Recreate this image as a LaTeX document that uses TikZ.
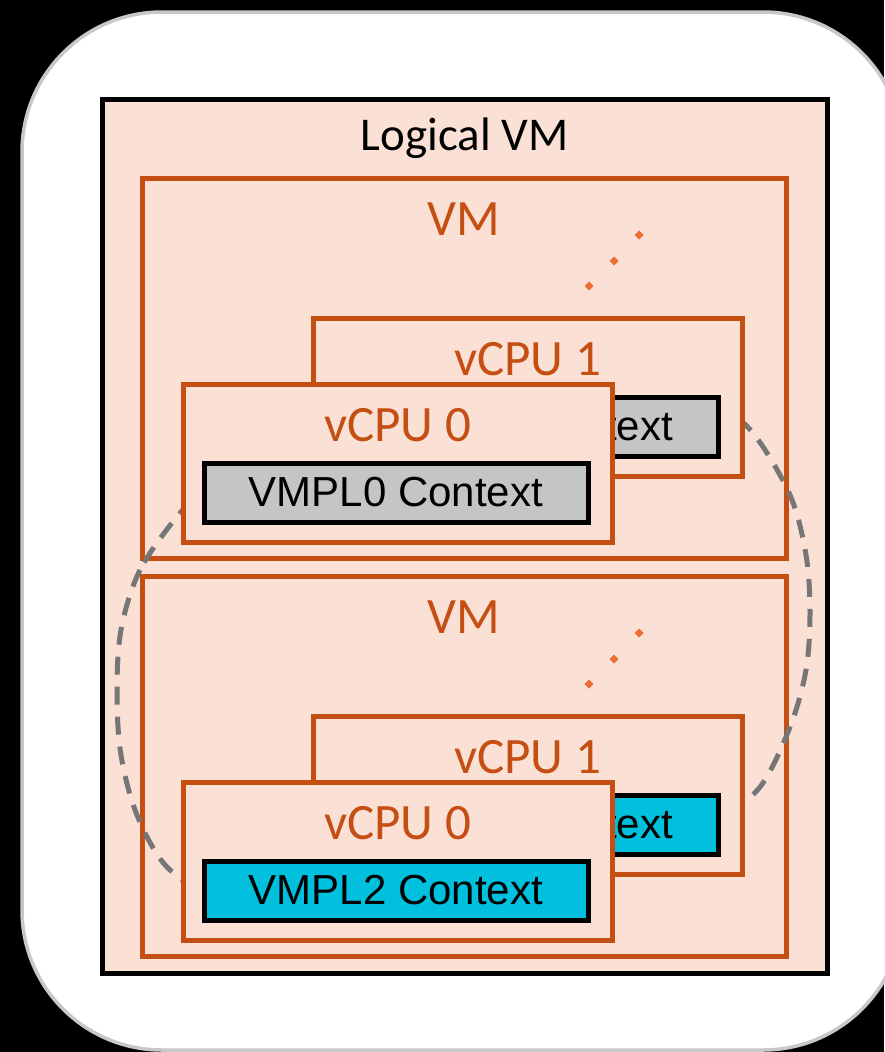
\documentclass[tikz,border=0pt]{standalone}
\usepackage{fontspec}
\setmainfont{Carlito}
\newfontfamily\ctxfont{Liberation Sans}
\definecolor{PanelClr}{RGB}{200,200,200}
\definecolor{LogicClr}{RGB}{251,224,214}
\definecolor{VmClr}{RGB}{197,78,18}
\definecolor{DotClr}{RGB}{237,110,49}
\definecolor{CtxGray}{RGB}{196,197,199}
\definecolor{CtxCyan}{RGB}{0,192,222}
\definecolor{RingClr}{RGB}{118,118,118}

\begin{document}
\begin{tikzpicture}[x=1pt,y=-1pt,
  lvmbox/.style={draw=black,fill=LogicClr,line width=5pt,minimum width=725pt,minimum height=874pt},
  vmbox/.style={draw=VmClr,fill=LogicClr,line width=5pt,minimum width=644pt,minimum height=380pt},
  cpubox/.style={draw=VmClr,fill=LogicClr,line width=5pt,minimum width=429pt,minimum height=158pt},
  ctxbox/.style={draw=black,line width=5pt,minimum width=384pt,minimum height=59pt,inner sep=0pt,
    font=\ctxfont\fontsize{42}{50}\selectfont},
  vmlbl/.style={anchor=base,inner sep=0pt,text=VmClr,font=\fontsize{51}{60}\selectfont},
  ring/.style={draw=RingClr,line width=5pt,dash pattern=on 18pt off 12pt}]

\useasboundingbox (0,0) rectangle (884,1052);
\fill[black] (0,0) rectangle (884,1052);
\draw[PanelClr,fill=white,line width=3.5pt,rounded corners=140pt] (22,12) rectangle (903,1050);

\node[lvmbox] (lvm) at (464.5,536) {};
\node[anchor=base,inner sep=0pt,font=\fontsize{47}{56}\selectfont] (lvmlbl) at ([yshift=-54pt]lvm.north) {Logical VM};

\node[vmbox] (vmA) at (464,368) {};
\node[vmlbl] (vmAlbl) at ([yshift=-60pt]vmA.north) {VM};
\node[vmbox] (vmB) at (464,766) {};
\node[vmlbl] (vmBlbl) at ([yshift=-60pt]vmB.north) {VM};

\foreach \p in {(639,235),(614,261),(589,286),(639,633),(614,659),(589,684)}
  \fill[DotClr] \p ++(-4.5,0) -- ++(4.5,-4.5) -- ++(4.5,4.5) -- ++(-4.5,4.5) -- cycle;

\draw[ring] plot[smooth cycle,tension=0.55] coordinates {
  (180,513) (140,570) (121,630) (117,693) (121,755) (137,815) (167,867)
  (215,895) (320,915) (440,908) (560,880) (650,845) (720,815)
  (760,787) (790,727) (806,670) (810,613) (806,555) (790,495) (753,433)
  (720,410) (640,385) (520,378) (400,395) (290,432) (215,480)};

\node[cpubox] (cpuA1) at (527.5,397) {};
\node[vmlbl] (cpuA1lbl) at ([yshift=-60pt]cpuA1.north) {vCPU 1};
\node[ctxbox,fill=CtxGray] (ctxA1) at (526,426.5) {VMPL0 Context};
\node[cpubox] (cpuA0) at (397.5,463) {};
\node[vmlbl] (cpuA0lbl) at ([yshift=-60pt]cpuA0.north) {vCPU 0};
\node[ctxbox,fill=CtxGray] (ctxA0) at (396,492.5) {VMPL0 Context};

\node[cpubox] (cpuB1) at (527.5,795) {};
\node[vmlbl] (cpuB1lbl) at ([yshift=-60pt]cpuB1.north) {vCPU 1};
\node[ctxbox,fill=CtxCyan] (ctxB1) at (526,824.5) {VMPL2 Context};
\node[cpubox] (cpuB0) at (397.5,861) {};
\node[vmlbl] (cpuB0lbl) at ([yshift=-60pt]cpuB0.north) {vCPU 0};
\node[ctxbox,fill=CtxCyan] (ctxB0) at (396,890.5) {VMPL2 Context};

\end{tikzpicture}
\end{document}
